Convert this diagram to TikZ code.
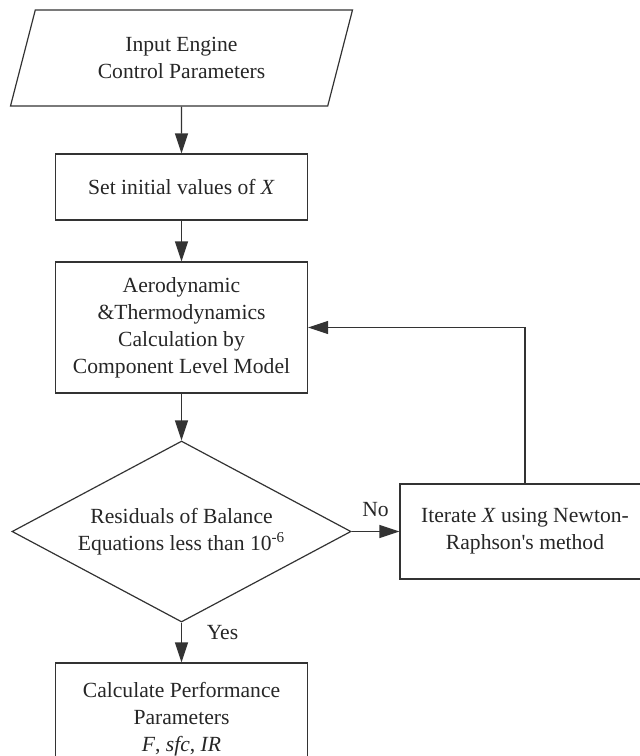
\documentclass[tikz,border=0pt]{standalone}
\usepackage{fontspec}
\setmainfont{Liberation Serif}
\usetikzlibrary{positioning, arrows.meta, shapes.geometric}

\begin{document}
\begin{tikzpicture}[
    block/.style={
        rectangle,
        draw=black!80,
        line width=0.6pt,
        minimum width=126pt,
        align=center,
        inner sep=2pt,
        text=black!85,
        font={\fontsize{10.8}{13.5}\selectfont}
    },
    io/.style={
        block,
        trapezium,
        trapezium left angle=63.4,
        trapezium right angle=116.6,
        trapezium stretches body=true,
        minimum width=171pt,
        minimum height=48pt
    },
    decision/.style={
        block,
        diamond,
        aspect=1.87,
        inner sep=0pt,
        minimum width=169.5pt,
        minimum height=90.5pt
    },
    arrow/.style={
        line width=0.6pt,
        draw=black!80,
        -{Triangle[length=10pt, width=6.5pt]}
    },
    lbl/.style={
        text=black!85,
        font={\fontsize{10.8}{13.5}\selectfont}
    }
]

\useasboundingbox (0,0) rectangle (320pt,-378pt);

\node[io] (input) at (90.75pt,-29pt) {Input Engine\\Control Parameters};
\node[block, minimum height=33pt, below=23.4pt of input] (setx) {Set initial values of \textit{X}};
\node[block, minimum height=65.5pt, below=20.4pt of setx] (aero) {Aerodynamic\\\&Thermodynamics\\Calculation by\\Component Level Model};
\node[decision, below=23.4pt of aero] (check) {Residuals of Balance\\Equations less than 10\textsuperscript{-6}};
\node[block, minimum width=125pt, minimum height=47.5pt, right=23.9pt of check] (iterate) {Iterate \textit{X} using Newton-\\Raphson\textquotesingle s method};
\node[block, minimum height=56pt, below=19.9pt of check] (perf) {Calculate Performance\\Parameters\\\textit{F}, \textit{sfc}, \textit{IR}};

\draw[arrow] (input) -- (setx);
\draw[arrow] (setx) -- (aero);
\draw[arrow] (aero) -- (check);
\draw[arrow] (check) -- node[lbl, pos=0.25, right=9pt]{Yes} (perf);
\draw[arrow] (check) -- node[lbl, midway, above=4pt]{No} (iterate);
\draw[arrow] (iterate.north) |- (aero.east);

\end{tikzpicture}
\end{document}
